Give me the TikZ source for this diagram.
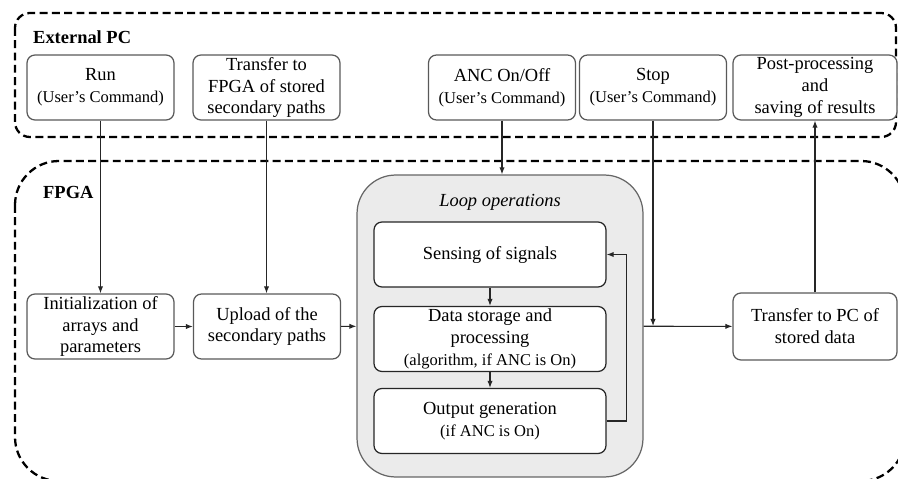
\documentclass[tikz,border=0pt]{standalone}
\usepackage{fontspec}
\setmainfont{Liberation Serif}
\usetikzlibrary{arrows.meta,positioning}
\newcommand{\cmdnote}[1]{{\fontsize{9.4}{11}\selectfont #1}}

\begin{document}
\begin{tikzpicture}[x=0.02cm, y=-0.02cm, >={Latex[length=4pt,width=3pt]},
    every node/.style={align=center, font=\fontsize{10.5}{12.5}\selectfont},
    zone/.style={draw, line width=1.3pt, dash pattern=on 4.5pt off 2.5pt},
    box/.style={draw=black!65, line width=0.7pt, rounded corners=4.5pt, fill=white,
      minimum width=2.94cm, minimum height=1.3cm, inner sep=1pt},
    stepbox/.style={box, draw=black!85, minimum width=4.64cm},
    loopbox/.style={draw=black!60, line width=0.7pt, rounded corners=22pt, fill=black!8,
      minimum width=5.72cm, minimum height=6.04cm},
    link/.style={->, draw=black!85, line width=0.6pt}]
    \useasboundingbox (0,0) rectangle (898,479);
    \begin{scope}
      \clip (0,0) rectangle (898,479);
      \draw[zone, rounded corners=8.5pt] (15,13) rectangle (896,137);
      \draw[zone, rounded corners=25pt] (15,161) rectangle (905,481);
    \end{scope}
    \node[font=\fontsize{10.5}{12.5}\selectfont\bfseries, anchor=west] (pclabel) at (27,37) {External PC};
    \node[font=\fontsize{10.5}{12.5}\selectfont\bfseries, anchor=west] (fpgalabel) at (37,192) {FPGA};
    % external PC row
    \node[box] (run) at (100.5,87.5) {Run\\\cmdnote{(User's Command)}};
    \node[box] (fpgaxfer) at (266.5,87.5) {Transfer to\\FPGA of stored\\secondary paths};
    \node[box] (anc) at (502,87.5) {ANC On/Off\\\cmdnote{(User's Command)}};
    \node[box] (stop) at (653,87.5) {Stop\\\cmdnote{(User's Command)}};
    \node[box, minimum width=3.28cm] (post) at (815,87.5) {Post-processing\\and\\saving of results};
    % FPGA row
    \node[box] (init) at (100.5,326.5) {Initialization of\\arrays and\\parameters};
    \node[box] (upload) at (267,326.5) {Upload of the\\secondary paths};
    \node[loopbox] (loop) at (500,326) {};
    \node[font=\fontsize{10.5}{12.5}\selectfont\itshape] (looplabel) at (500,202) {Loop operations};
    \node[stepbox] (sense) at (490,254.5) {Sensing of signals};
    \node[stepbox] (data) at (490,339) {Data storage and\\processing\\\cmdnote{(algorithm, if ANC is On)}};
    \node[stepbox] (outgen) at (490,421) {Output generation\\\cmdnote{(if ANC is On)}};
    \node[box, minimum width=3.28cm, minimum height=1.34cm] (pcxfer) at (815,326.5) {Transfer to PC of\\stored data};
    % connectors
    \draw[link] (run) -- (init);
    \draw[link] (fpgaxfer.south) -- (fpgaxfer.south |- upload.north);
    \draw[link] (anc.south) -- (anc.south |- loop.north);
    \draw[link] (init) -- (upload);
    \draw[link] (upload) -- (loop);
    \draw[link] (sense) -- (data);
    \draw[link] (data) -- (outgen);
    \draw[link] (outgen.east) -- ++(20,0) |- (sense.east);
    \draw[link] (loop) -- (pcxfer);
    \draw[link] (stop.south) -- (stop.south |- loop.east);
    \draw[link] (pcxfer) -- (post);
  \end{tikzpicture}
\end{document}
